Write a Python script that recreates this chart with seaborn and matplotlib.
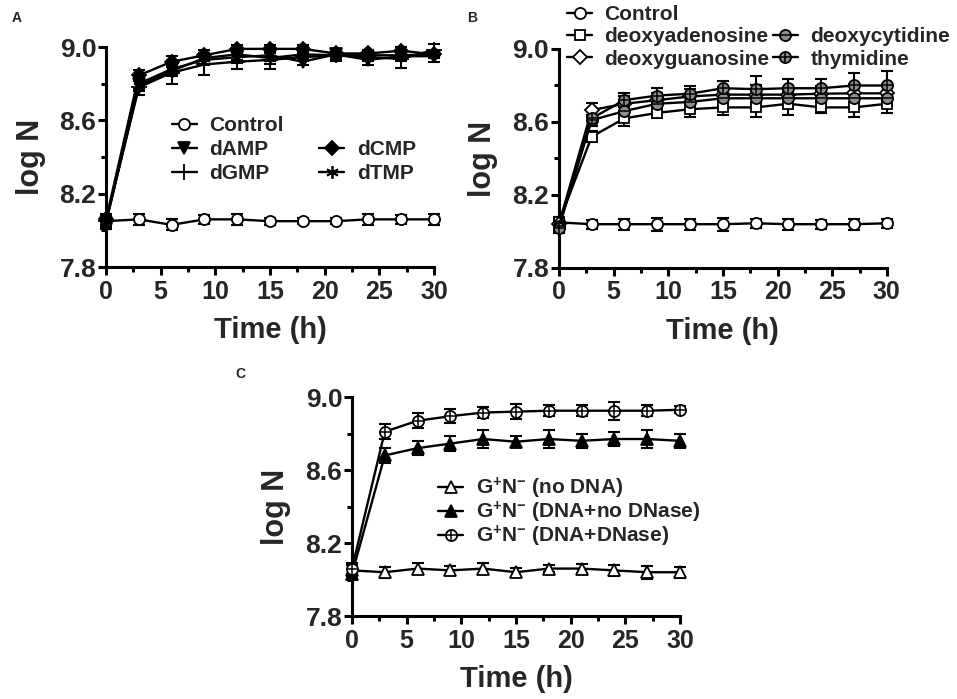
import matplotlib
matplotlib.use("Agg")
import matplotlib.pyplot as plt
import seaborn as sns
from matplotlib.lines import Line2D
from matplotlib.legend_handler import HandlerTuple
from matplotlib.ticker import MultipleLocator

# datos
time = [0, 3, 6, 9, 12, 15, 18, 21, 24, 27, 30]

# panel A
control_a = [8.05, 8.06, 8.03, 8.06, 8.06, 8.05, 8.05, 8.05, 8.06, 8.06, 8.06]
control_a_err = [0.03, 0.03, 0.03, 0.025, 0.03, 0.02, 0.015, 0.015, 0.03, 0.025, 0.03]
damp = [8.04, 8.80, 8.88, 8.93, 8.945, 8.955, 8.92, 8.96, 8.93, 8.95, 8.95]
damp_err = [0.03, 0.03, 0.03, 0.03, 0.03, 0.03, 0.02, 0.02, 0.03, 0.02, 0.03]
dcmp = [8.06, 8.845, 8.92, 8.955, 8.99, 8.99, 8.99, 8.965, 8.965, 8.98, 8.96]
dcmp_err = [0.03, 0.03, 0.03, 0.03, 0.02, 0.02, 0.02, 0.02, 0.02, 0.02, 0.02]
dgmp = [8.05, 8.78, 8.86, 8.905, 8.92, 8.93, 8.945, 8.955, 8.945, 8.935, 8.985]
dgmp_err = [0.04, 0.04, 0.06, 0.06, 0.04, 0.05, 0.02, 0.03, 0.02, 0.05, 0.03]
dtmp = [8.05, 8.79, 8.87, 8.94, 8.96, 8.94, 8.96, 8.955, 8.955, 8.955, 8.96]
dtmp_err = [0.03, 0.03, 0.03, 0.03, 0.03, 0.03, 0.02, 0.02, 0.02, 0.03, 0.02]

# panel B
control_b = [8.05, 8.04, 8.04, 8.04, 8.04, 8.04, 8.045, 8.04, 8.04, 8.04, 8.045]
control_b_err = [0.03, 0.025, 0.03, 0.035, 0.03, 0.035, 0.025, 0.03, 0.025, 0.03, 0.025]
dadenosine = [8.05, 8.52, 8.62, 8.65, 8.67, 8.68, 8.68, 8.70, 8.68, 8.68, 8.70]
dadenosine_err = [0.03, 0.03, 0.04, 0.03, 0.04, 0.04, 0.05, 0.06, 0.03, 0.05, 0.05]
dguanosine = [8.04, 8.665, 8.70, 8.72, 8.74, 8.75, 8.75, 8.75, 8.755, 8.757, 8.757]
dguanosine_err = [0.03, 0.04, 0.04, 0.04, 0.04, 0.04, 0.05, 0.04, 0.04, 0.05, 0.05]
dcytidine = [8.03, 8.61, 8.66, 8.70, 8.71, 8.73, 8.73, 8.73, 8.73, 8.73, 8.73]
dcytidine_err = [0.03, 0.03, 0.04, 0.04, 0.04, 0.04, 0.04, 0.04, 0.04, 0.04, 0.04]
thymidine = [8.02, 8.62, 8.72, 8.745, 8.755, 8.785, 8.78, 8.785, 8.785, 8.80, 8.80]
thymidine_err = [0.03, 0.04, 0.04, 0.04, 0.04, 0.04, 0.07, 0.05, 0.05, 0.07, 0.08]

# panel C
no_dna = [8.05, 8.04, 8.06, 8.05, 8.06, 8.04, 8.06, 8.06, 8.05, 8.04, 8.04]
no_dna_err = [0.03, 0.03, 0.03, 0.025, 0.03, 0.025, 0.02, 0.025, 0.03, 0.035, 0.03]
dna_no_dnase = [8.03, 8.68, 8.72, 8.745, 8.77, 8.755, 8.77, 8.76, 8.77, 8.77, 8.76]
dna_no_dnase_err = [0.03, 0.04, 0.04, 0.04, 0.05, 0.03, 0.05, 0.04, 0.04, 0.05, 0.04]
dna_dnase = [8.06, 8.81, 8.87, 8.895, 8.915, 8.92, 8.925, 8.925, 8.925, 8.925, 8.93]
dna_dnase_err = [0.03, 0.04, 0.04, 0.04, 0.03, 0.04, 0.03, 0.03, 0.05, 0.03, 0.02]

sns.set_theme(style="ticks")
plt.rcParams['font.family'] = ['Liberation Sans', 'DejaVu Sans']
plt.rcParams['font.weight'] = 'bold'
plt.rcParams['mathtext.fontset'] = 'custom'
plt.rcParams['mathtext.rm'] = 'Liberation Sans:bold'
plt.rcParams['mathtext.bf'] = 'Liberation Sans:bold'
plt.rcParams['mathtext.default'] = 'bf'

fig = plt.figure(figsize=(9.57, 6.99), dpi=100)
ax_a = fig.add_axes([0.1108, 0.618, 0.3427, 0.3147])
ax_b = fig.add_axes([0.584, 0.6166, 0.3427, 0.3133])
ax_c = fig.add_axes([0.3678, 0.1187, 0.3427, 0.3133])


def serie(ax, y, err, marker, face, size=8, overlay=None, ov_size=8):
    ax.errorbar(time, y, yerr=err, fmt='none', ecolor='black', elinewidth=1.5,
                capsize=4.5, capthick=1.5, zorder=2, clip_on=False)
    sns.lineplot(x=time, y=y, ax=ax, color='black', linewidth=1.7, marker=marker,
                 markersize=size, markerfacecolor=face, markeredgecolor='black',
                 markeredgewidth=1.3, zorder=3, clip_on=False, legend=False)
    h = Line2D([], [], color='black', linewidth=1.7, marker=marker, markersize=size,
               markerfacecolor=face, markeredgecolor='black', markeredgewidth=1.3)
    if overlay is not None:
        ax.plot(time, y, linestyle='none', marker=overlay, markersize=ov_size,
                color='black', markeredgewidth=1.1, zorder=4, clip_on=False)
        h2 = Line2D([], [], linestyle='none', marker=overlay, markersize=ov_size,
                    color='black', markeredgewidth=1.1)
        return (h, h2)
    return h


def estilo(ax):
    sns.despine(ax=ax)
    ax.set_xlim(0, 30)
    ax.set_ylim(7.8, 9.0)
    ax.xaxis.set_major_locator(MultipleLocator(5))
    ax.xaxis.set_minor_locator(MultipleLocator(2.5))
    ax.yaxis.set_minor_locator(MultipleLocator(0.2))
    ax.set_yticks([7.8, 8.2, 8.6, 9.0])
    ax.set_yticklabels(['7.8', '8.2', '8.6', '9.0'])
    for s in ['left', 'bottom']:
        ax.spines[s].set_linewidth(2.2)
        ax.spines[s].set_color('black')
    ax.tick_params(which='major', direction='out', length=6, width=2.2, color='black',
                   labelsize=18, pad=1)
    ax.tick_params(which='minor', direction='out', length=3.5, width=2.2, color='black')
    ax.tick_params(axis='x', pad=3)
    ax.tick_params(axis='y', labelsize=19)
    for lab in ax.get_xticklabels() + ax.get_yticklabels():
        lab.set_fontweight('bold')
    ax.set_xlabel('Time (h)', fontsize=21, fontweight='bold', labelpad=9)
    ax.set_ylabel('log N', fontsize=22, fontweight='bold', labelpad=10)
    ax.set_facecolor('white')


blank = Line2D([], [], linestyle='none')
leg_kw = dict(frameon=False, prop={'size': 15, 'weight': 'bold'}, handlelength=1.2,
              handletextpad=0.6, borderpad=0, borderaxespad=0,
              handler_map={tuple: HandlerTuple(ndivide=1)})

# Panel A
h1 = serie(ax_a, control_a, control_a_err, 'o', 'white')
h2 = serie(ax_a, damp, damp_err, 'v', 'black', size=9)
h3 = serie(ax_a, dgmp, dgmp_err, '+', 'black', size=11)
h4 = serie(ax_a, dcmp, dcmp_err, 'D', 'black', size=7)
h5 = serie(ax_a, dtmp, dtmp_err, (6, 2, 0), 'black', size=9)
estilo(ax_a)
fig.legend([h1, h2, h3, blank, h4, h5], ['Control', 'dAMP', 'dGMP', '', 'dCMP', 'dTMP'],
           ncol=2, loc='upper left', bbox_to_anchor=(0.1797, 1 - 116 / 699),
           columnspacing=1.7, labelspacing=0.24, **leg_kw)

# Panel B
g1 = serie(ax_b, control_b, control_b_err, 'o', 'white')
g2 = serie(ax_b, dadenosine, dadenosine_err, 's', 'white', size=7)
g3 = serie(ax_b, dguanosine, dguanosine_err, 'D', 'white', size=7)
g4 = serie(ax_b, dcytidine, dcytidine_err, 'o', '#8c8c8c', overlay='_', ov_size=7)
g5 = serie(ax_b, thymidine, thymidine_err, 'o', '#8c8c8c', overlay='+', ov_size=7)
estilo(ax_b)
fig.legend([g1, g2, g3, blank, g4, g5],
           ['Control', 'deoxyadenosine', 'deoxyguanosine', '', 'deoxycytidine', 'thymidine'],
           ncol=2, loc='upper left', bbox_to_anchor=(0.5925, 1 - 5 / 699),
           columnspacing=0.15, labelspacing=0.16, **leg_kw)

# Panel C
k1 = serie(ax_c, no_dna, no_dna_err, '^', 'white', size=9)
k2 = serie(ax_c, dna_no_dnase, dna_no_dnase_err, '^', 'black', size=9)
k3 = serie(ax_c, dna_dnase, dna_dnase_err, 'o', 'white', overlay='+', ov_size=8)
estilo(ax_c)
fig.legend([k1, k2, k3],
           ['G$^{+}$N$^{-}$ (no DNA)', 'G$^{+}$N$^{-}$ (DNA+no DNase)',
            'G$^{+}$N$^{-}$ (DNA+DNase)'],
           loc='upper left', bbox_to_anchor=(0.4577, 1 - 476 / 699),
           labelspacing=-0.08, **leg_kw)

fig.text(12 / 957, 1 - 11 / 699, 'A', fontsize=10, fontweight='bold', va='top')
fig.text(467 / 957, 1 - 11 / 699, 'B', fontsize=10, fontweight='bold', va='top')
fig.text(235 / 957, 1 - 367 / 699, 'C', fontsize=10, fontweight='bold', va='top')

fig.savefig('out.png', dpi=100, facecolor='white')
